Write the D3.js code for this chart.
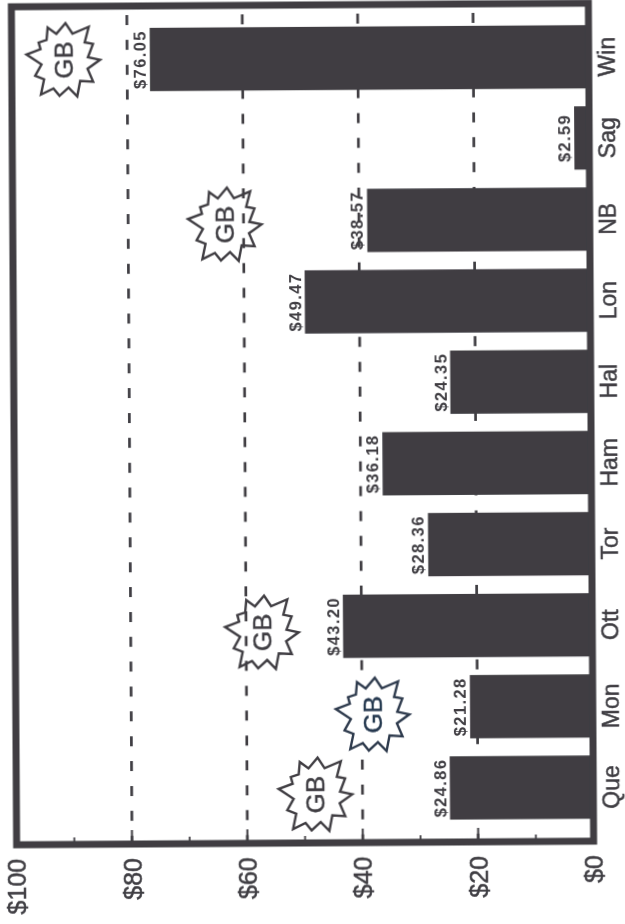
<!DOCTYPE html>
<html lang="en">
<head>
    <meta charset="UTF-8">
    <title>Bars by city</title>
    <style>
        body, html { margin: 0; background: #fff; overflow: hidden; }
        text { font-family: "Liberation Sans", Arial, sans-serif; fill: #3f3e43; }
    </style>
</head>
<body>
<script src="https://d3js.org/d3.v7.min.js"></script>
<script>
    // Data, top of the page first
    const categories = ["Win", "Sag", "NB", "Lon", "Hal", "Ham", "Tor", "Ott", "Mon", "Que"];
    const values = [76.06, 2.59, 38.57, 49.47, 24.35, 36.18, 28.36, 43.20, 21.28, 24.86];
    const valueLabels = ["$76.05", "$2.59", "$38.57", "$49.47", "$24.35", "$36.18", "$28.36", "$43.20", "$21.28", "$24.86"];
    const axisTicks = [0, 20, 40, 60, 80, 100];
    const minorTicks = [10, 30, 50, 70, 90];
    const gridTicks = [20, 40, 60, 80];

    // GB stickers: value they sit at, and slot counted in categories from the top
    const badgeNames = ["Win", "NB", "Ott", "Mon", "Que"];
    const badgeValues = [91.1, 63.3, 57.3, 38.2, 48.2];
    const badgeSlots = [0, 2.04, 7.07, 8.09, 9.07];
    const badgeLabel = "GB";
    // starburst outline, degrees clockwise from up and radius
    const burstAngles = [4, 20, 38, 51, 62, 84, 90, 110, 126, 141, 159, 169, 186, 199, 213, 225, 241, 259, 279, 296, 306, 321, 335, 346];
    const burstRadii = [37, 28, 42, 28, 34, 25, 37, 26, 37, 27, 39, 28, 36, 30, 41, 27, 32, 22, 37, 25, 30, 26, 36, 27];

    const ink = "#3f3e43";
    const width = 625, height = 924;

    const svg = d3.select("body").append("svg")
        .attr("width", width)
        .attr("height", height);

    // soften the edges a bit, it is a scan
    svg.append("defs").append("filter")
        .attr("id", "scan")
        .append("feGaussianBlur")
        .attr("stdDeviation", 0.4);

    // the page was scanned a little crooked
    const g = svg.append("g")
        .attr("filter", "url(#scan)")
        .attr("transform", "rotate(-0.36 300 424)");

    const x = d3.scaleLinear().domain([0, 100]).range([591, 14]);
    const y = d3.scaleBand().domain(categories).range([18, 829.5]).paddingInner(0.22).paddingOuter(0.11);
    const slot = d3.scaleLinear()
        .domain([0, categories.length - 1])
        .range([y(categories[0]) + y.bandwidth() / 2, y(categories[categories.length - 1]) + y.bandwidth() / 2]);

    // dashed grid
    g.selectAll(".grid")
        .data(gridTicks)
        .enter().append("line")
        .attr("class", "grid")
        .attr("x1", d => x(d))
        .attr("x2", d => x(d))
        .attr("y1", 14)
        .attr("y2", 840)
        .attr("stroke", ink)
        .attr("stroke-width", 2.7)
        .attr("stroke-dasharray", "10 14.87");

    // bars
    g.selectAll(".bar")
        .data(values)
        .enter().append("rect")
        .attr("class", "bar")
        .attr("x", d => x(d))
        .attr("y", (d, i) => y(categories[i]))
        .attr("width", d => x(0) - x(d))
        .attr("height", y.bandwidth())
        .attr("fill", ink);

    // value labels
    g.selectAll(".value")
        .data(values)
        .enter().append("text")
        .attr("class", "value")
        .attr("transform", (d, i) => `translate(${x(d) - 4},${y(categories[i]) + y.bandwidth() / 2}) rotate(-90)`)
        .attr("text-anchor", "middle")
        .attr("font-size", 16.5)
        .attr("font-weight", "bold")
        .attr("letter-spacing", 1.4)
        .text((d, i) => valueLabels[i]);

    // frame
    g.append("rect")
        .attr("x", x(100))
        .attr("y", 5)
        .attr("width", x(0) - x(100))
        .attr("height", 838)
        .attr("fill", "none")
        .attr("stroke", ink)
        .attr("stroke-width", 7);

    // value axis along the bottom, labels turned with the page
    const valueAxis = g.append("g")
        .attr("transform", "translate(0,843)")
        .call(d3.axisBottom(x).tickValues(axisTicks).tickSize(0).tickFormat(d => "$" + d));
    valueAxis.select(".domain").remove();
    valueAxis.selectAll("text")
        .attr("transform", "translate(0,14) rotate(-90)")
        .attr("x", 0)
        .attr("y", 0)
        .attr("dy", "0.35em")
        .attr("text-anchor", "end")
        .attr("font-size", 25)
        .style("font-family", "\"Liberation Sans\", Arial, sans-serif")
        .style("fill", ink)
        .style("stroke", ink)
        .style("stroke-width", 0.5);

    // small ticks just inside the frame
    g.selectAll(".minor")
        .data(minorTicks)
        .enter().append("line")
        .attr("class", "minor")
        .attr("x1", d => x(d))
        .attr("x2", d => x(d))
        .attr("y1", 836)
        .attr("y2", 842)
        .attr("stroke", ink)
        .attr("stroke-width", 1.8);

    g.selectAll(".major")
        .data(gridTicks)
        .enter().append("line")
        .attr("class", "major")
        .attr("x1", d => x(d))
        .attr("x2", d => x(d))
        .attr("y1", 829)
        .attr("y2", 842)
        .attr("stroke", ink)
        .attr("stroke-width", 2);

    // category axis down the right
    const catAxis = g.append("g")
        .attr("transform", `translate(${x(0)},0)`)
        .call(d3.axisRight(y).tickSize(0));
    catAxis.select(".domain").remove();
    catAxis.selectAll("text")
        .attr("transform", "translate(18,0) rotate(-90)")
        .attr("x", 0)
        .attr("y", 0)
        .attr("dy", "0.35em")
        .attr("text-anchor", "middle")
        .attr("font-size", 23)
        .style("font-family", "\"Liberation Sans\", Arial, sans-serif")
        .style("fill", ink)
        .style("stroke", ink)
        .style("stroke-width", 0.5);

    // GB starbursts
    const burst = d3.lineRadial()
        .angle((d, i) => burstAngles[i] * Math.PI / 180)
        .radius(d => d)
        .curve(d3.curveLinearClosed);

    const badges = g.selectAll(".badge")
        .data(badgeNames)
        .enter().append("g")
        .attr("class", "badge")
        .attr("transform", (d, i) => `translate(${x(badgeValues[i])},${slot(badgeSlots[i])})`);

    // the Mon sticker was pasted on, the grid does not show through it
    badges.append("path")
        .attr("d", burst(burstRadii))
        .attr("fill", d => d === "Mon" ? "#fff" : "none")
        .attr("stroke", d => d === "Mon" ? "#2f3b4e" : ink)
        .attr("stroke-width", 2.4)
        .attr("stroke-linejoin", "miter");

    badges.append("text")
        .attr("transform", "rotate(-90)")
        .attr("text-anchor", "middle")
        .attr("dy", "0.36em")
        .attr("font-size", 26)
        .style("fill", d => d === "Mon" ? "#25384f" : ink)
        .style("stroke", d => d === "Mon" ? "#25384f" : ink)
        .style("stroke-width", 0.4)
        .text(badgeLabel);
</script>
</body>
</html>
